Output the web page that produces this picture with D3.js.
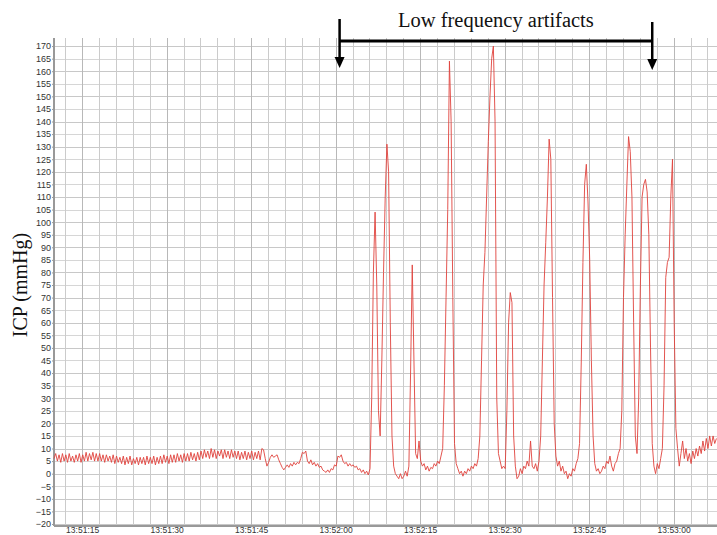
<!DOCTYPE html>
<html>
<head>
<meta charset="utf-8">
<script src="https://cdn.jsdelivr.net/npm/d3@7"></script>
<style>
  body { margin: 0; background: #fff; }
  .grid line { shape-rendering: crispEdges; }
  .axis text { font-family: "Liberation Sans", Arial, sans-serif; font-size: 9px; fill: #333; }
  .x-axis text { font-size: 8.5px; }
  .axis path, .axis line { stroke: #999; }
</style>
</head>
<body>
<div id="chart"></div>
<script>
// ICP trace, one sample every 0.3 s starting at 13:51:10
var startTime = "13:51:10",
    endTime = "13:53:07.7",
    stepMs = 300;

// regular pulsatile baseline (13:51:10 -> ~13:51:47)
var baselineIcp = [
  6,8, 5,7.5, 4.5,8, 5,7.5, 4.5,8, 5,7, 4.5,7.5, 5,8, 4.5,7.5, 5,8.5, 5,8, 5.5,8.5, 5,8, 5,8,
  5,7.5, 4.5,7.5, 5,7, 4.5,7.5, 4,7, 4.5,6.5, 4,7, 3.5,6.5, 4,7, 3.5,6, 4,6.5, 3.5,6.5, 4,6.5, 3.5,7, 4,6.5,
  4,7, 3.5,6.5, 4,7, 4,7.5, 4.5,7, 4,7.5, 4.5,7.5, 4.5,8, 5,7.5, 4.5,8, 5,8, 5,8.5, 5.5,8, 5,8.5, 5.5,9,
  6,9.5, 6.5,9, 6,10, 6.5,9.5, 6,9, 7,9.5, 6,9.5, 6.5,9, 6,9.5, 6.5,9, 6,9, 5.5,8.5, 6,9, 5.5,8.5, 6,9, 5.5,8.5, 6,9, 5.5,10
];

// irregular stretch before the artifacts
var transitionIcp = [
  9.5,6,3,4.5,6.5,7.5,6.5,7,7.5,5.5,
  4,2.5,1.5,2.5,3.5,2.5,4,3,4.5,3.5,
  4.5,4,6,8.5,8,9,5,4,5.5,3.5,
  4.5,3,4,2.5,3,1.5,1,0.5,1.5,0.5,
  2,1.5,3.5,3,7,6.5,7.5,5,4,4.5,
  3,4,3,3.5,2.5,3,1.5,2,0.5,1.5,
  0,1,-0.5
];

// low frequency artifacts
var artifactIcp = [
  2,30,80,104,75,25,15,45,80,110,
  131,120,60,15,3,0,-1,-2,0,-2,
  -1,1,-1,3,40,83,45,8,6,13,
  5,3,4,1.5,3,1,2.5,2,4,3,
  5,4,7,10,35,70,105,164,140,70,
  12,4,2,0,1,-1,1,0,2,1,
  3,2,4,3,6,15,45,75,88,110,
  132,150,165,170,140,30,8,5,2,3,
  2,25,60,72,68,15,3,-2,-1,2,
  0,3,2,5,3,13,3,2,4,1,
  5,15,45,75,92,110,133,125,70,20,
  7,3,5,1,3,0,1,-2,0,-1,
  2,1,4,6,12,44,84,115,123,108,
  85,45,15,4,1,2,0,1,3,2,
  5,4,7,3,1,4,5,8,10,25,
  70,95,115,134,128,110,60,15,8,30,
  75,110,115,117,112,95,50,12,3,0,
  4,2,6,10,35,78,84,86,110,125,
  60,18,10,3,8,13,6,10,5,8,
  4,9,6,10,7,11,8,13,9,14,
  10,15,11,15,12,14
];

var xTickLabels = ["13:51:15", "13:51:30", "13:51:45", "13:52:00", "13:52:15", "13:52:30", "13:52:45", "13:53:00"];
var yTicks = d3.range(-20, 171, 5);
var annotation = { text: "Low frequency artifacts", from: "13:52:00.7", to: "13:52:56.2" };

var parseTime = d3.timeParse("%H:%M:%S"),
    parseTimeMs = d3.timeParse("%H:%M:%S.%L");
function parseAny(s) { return s.indexOf(".") >= 0 ? parseTimeMs(s + "00".slice(0, 4 - s.split(".")[1].length)) : parseTime(s); }

var t0 = parseTime(startTime);
var icp = baselineIcp.concat(transitionIcp, artifactIcp);
var data = icp.map(function(v, i) { return { t: new Date(+t0 + i * stepMs), v: v }; });

var margin = {top: 38, right: 0, bottom: 9, left: 54},
    fullW = 717, fullH = 535,
    width = fullW - margin.left - margin.right,
    height = fullH - margin.top - margin.bottom;

var x = d3.scaleTime().domain([t0, parseAny(endTime)]).range([0, width]),
    y = d3.scaleLinear().domain([-20.8, 173.2]).range([height, 0]);

var svg = d3.select("#chart")
  .append("svg")
    .attr("width", fullW)
    .attr("height", fullH);

var g = svg.append("g")
    .attr("transform", "translate(" + margin.left + "," + margin.top + ")");

// grid
g.append("g")
    .attr("class", "grid")
  .selectAll("line")
  .data(yTicks)
  .enter().append("line")
    .attr("x1", 0).attr("x2", width)
    .attr("y1", function(d) { return Math.round(y(d)) + 0.5; })
    .attr("y2", function(d) { return Math.round(y(d)) + 0.5; })
    .attr("stroke", function(d) { return d % 10 === 0 ? "#c8c8c8" : "#d6d6d6"; });

g.append("g")
    .attr("class", "grid")
  .selectAll("line")
  .data(x.ticks(d3.timeSecond.every(3)))
  .enter().append("line")
    .attr("y1", 0).attr("y2", height)
    .attr("x1", function(d) { return Math.round(x(d)) + 0.5; })
    .attr("x2", function(d) { return Math.round(x(d)) + 0.5; })
    .attr("stroke", function(d) { return d.getSeconds() % 15 === 0 ? "#b8b8b8" : "#cbcbcb"; });

// axes
var yAxis = d3.axisLeft(y).tickValues(yTicks).tickSize(2).tickPadding(1);
g.append("g")
    .attr("class", "axis y-axis")
    .call(yAxis)
    .call(function(a) { a.select(".domain").attr("stroke-width", 2).attr("d", "M0,0V" + height); });

var xAxis = d3.axisBottom(x)
    .tickValues(xTickLabels.map(parseTime))
    .tickFormat(d3.timeFormat("%H:%M:%S"))
    .tickSize(0)
    .tickPadding(1);
g.append("g")
    .attr("class", "axis x-axis")
    .attr("transform", "translate(0," + height + ")")
    .call(xAxis)
    .call(function(a) { a.select(".domain").attr("stroke-width", 2).attr("d", "M0,0H" + width); });

// trace
var line = d3.line()
    .x(function(d) { return x(d.t); })
    .y(function(d) { return y(d.v); });

g.append("path")
    .datum(data)
    .attr("fill", "none")
    .attr("stroke", "#e0433d")
    .attr("stroke-width", 1)
    .attr("stroke-opacity", 0.9)
    .attr("stroke-linejoin", "round")
    .attr("d", line);

// y label
svg.append("text")
    .attr("transform", "translate(27,285) rotate(-90)")
    .attr("text-anchor", "middle")
    .style("font-family", "'Liberation Serif', 'Times New Roman', serif")
    .style("font-size", "20px")
    .attr("fill", "#111")
    .text("ICP (mmHg)");

// annotation bracket with arrows
var ax1 = margin.left + x(parseAny(annotation.from)),
    ax2 = margin.left + x(parseAny(annotation.to)),
    barY = 41;

var ann = svg.append("g").attr("stroke", "#000").attr("fill", "#000");
ann.append("line").attr("x1", ax1).attr("x2", ax2).attr("y1", barY).attr("y2", barY).attr("stroke-width", 3);
[[ax1, 19, 57, 68], [ax2, 22, 59, 70]].forEach(function(a) {
  ann.append("line").attr("x1", a[0]).attr("x2", a[0]).attr("y1", a[1]).attr("y2", a[2]).attr("stroke-width", 2.5);
  ann.append("path")
      .attr("stroke", "none")
      .attr("d", "M" + (a[0] - 5) + "," + a[2] + "L" + (a[0] + 5) + "," + a[2] + "L" + a[0] + "," + a[3] + "Z");
});

svg.append("text")
    .attr("x", (ax1 + ax2) / 2)
    .attr("y", 27)
    .attr("text-anchor", "middle")
    .style("font-family", "'Liberation Serif', 'Times New Roman', serif")
    .style("font-size", "20.5px")
    .attr("fill", "#111")
    .text(annotation.text);
</script>
</body>
</html>
